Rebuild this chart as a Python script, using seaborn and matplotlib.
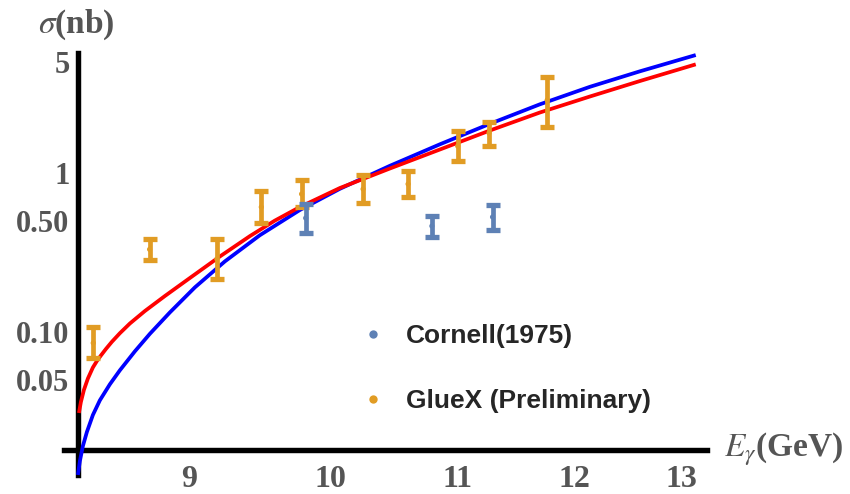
import numpy as np
import pandas as pd
import matplotlib
matplotlib.use("Agg")
import matplotlib.pyplot as plt
from matplotlib.lines import Line2D
from matplotlib.ticker import FixedLocator, FixedFormatter, NullLocator
import seaborn as sns

# ---------------- data ----------------
# model curves (E in GeV, sigma in nb)
blue_E = [8.2845, 8.2969, 8.3155, 8.3403, 8.3777, 8.4216, 8.4847, 8.5483, 8.6446, 8.7419,
          8.8733, 9.0404, 9.2451, 9.4897, 9.7773, 10.0735, 10.4565, 10.854, 11.2668, 11.6951,
          12.1399, 12.6015, 13.139]
blue_sigma = [0.01261, 0.01544, 0.01919, 0.02350, 0.03006, 0.03719, 0.04690, 0.05743, 0.07560, 0.09743,
              0.1328, 0.1908, 0.2780, 0.4062, 0.5852, 0.7955, 1.1099, 1.5154, 2.0392, 2.7044,
              3.4846, 4.3616, 5.5234]
red_E = [8.2907, 8.3031, 8.3217, 8.3466, 8.3777, 8.4029, 8.4280, 8.4595, 8.4974, 8.5483,
         8.6123, 8.7093, 8.8403, 9.0067, 9.2106, 9.4192, 9.5965, 9.7773, 10.0735, 10.4565,
         10.854, 11.2668, 11.6951, 12.1399, 12.6015, 13.139]
red_sigma = [0.03094, 0.03629, 0.04318, 0.05100, 0.05981, 0.06571, 0.07116, 0.07817, 0.08677, 0.09828,
             0.1131, 0.1355, 0.1684, 0.2186, 0.2985, 0.4010, 0.5020, 0.6112, 0.8047, 1.0673,
             1.4054, 1.8510, 2.4017, 3.0280, 3.7894, 4.8276]

# GlueX (Preliminary)
gluex_E = [8.38, 8.74, 9.19, 9.50, 9.79, 10.25, 10.60, 11.00, 11.26, 11.76]
gluex_sigma = [0.0853, 0.331, 0.288, 0.611, 0.738, 0.793, 0.853, 1.478, 1.785, 2.88]
gluex_lo = [0.0684, 0.284, 0.215, 0.488, 0.607, 0.652, 0.708, 1.199, 1.483, 1.953]
gluex_hi = [0.108, 0.383, 0.383, 0.772, 0.901, 0.968, 1.032, 1.851, 2.099, 4.045]

# Cornell (1975)
cornell_E = [9.82, 10.79, 11.29]
cornell_sigma = [0.521, 0.464, 0.529]
cornell_lo = [0.422, 0.397, 0.437]
cornell_hi = [0.643, 0.538, 0.627]

x_ticks = [9, 10, 11, 12, 13]
y_major = [0.05, 0.1, 0.5, 1, 5]
y_major_labels = ["0.05", "0.10", "0.50", "1", "5"]
legend_labels = ["Cornell(1975)", "GlueX (Preliminary)"]

C_CORNELL = "#5e81b5"
C_GLUEX = "#e19c24"
C_BLUE = "#0000ff"
C_RED = "#ff0000"
TICK_COL = "#555555"

# ---------------- figure ----------------
sns.set_style("white")
plt.rcParams["font.family"] = ["Liberation Serif", "DejaVu Serif"]
plt.rcParams["mathtext.fontset"] = "stix"

fig = plt.figure(figsize=(8.5, 4.94), dpi=100)
ax = fig.add_axes([64 / 850, 1 - 475 / 494, (707 - 64) / 850, (475 - 53) / 494])
ax.set_xscale("log")
ax.set_yscale("log")
ax.set_xlim(8.199, 13.25)
ax.set_ylim(0.0126, 5.69)

curves = pd.concat([
    pd.DataFrame({"E": blue_E, "sigma": blue_sigma, "model": "blue"}),
    pd.DataFrame({"E": red_E, "sigma": red_sigma, "model": "red"}),
])
sns.lineplot(data=curves, x="E", y="sigma", hue="model",
             palette={"blue": C_BLUE, "red": C_RED}, lw=2.7, ax=ax,
             legend=False, sort=False, estimator=None, zorder=3)
for l in ax.lines:
    l.set_clip_on(False)
    l.set_solid_capstyle("butt")
    l.set_solid_joinstyle("round")

def bars(E, s, lo, hi, col):
    s = np.asarray(s); lo = np.asarray(lo); hi = np.asarray(hi)
    ax.errorbar(E, s, yerr=[s - lo, hi - s], fmt="none", ecolor=col,
                elinewidth=3.4, capsize=5.0, capthick=3.8, zorder=4)
    sns.scatterplot(x=E, y=s, color=col, s=14, edgecolor="none", ax=ax, zorder=5)

bars(gluex_E, gluex_sigma, gluex_lo, gluex_hi, C_GLUEX)
bars(cornell_E, cornell_sigma, cornell_lo, cornell_hi, C_CORNELL)

# axes crossing like Mathematica
for s in ["top", "right"]:
    ax.spines[s].set_visible(False)
ax.spines["left"].set_position(("data", 8.284))
ax.spines["bottom"].set_position(("data", 0.0181))
ax.spines["left"].set_linewidth(3.9)
ax.spines["bottom"].set_linewidth(3.9)
ax.spines["left"].set_color("black")
ax.spines["bottom"].set_color("black")

ax.xaxis.set_major_locator(FixedLocator(x_ticks))
ax.xaxis.set_major_formatter(FixedFormatter([str(t) for t in x_ticks]))
ax.xaxis.set_minor_locator(NullLocator())
ax.yaxis.set_major_locator(FixedLocator(y_major))
ax.yaxis.set_major_formatter(FixedFormatter(y_major_labels))
minor = [m * 10.0 ** k for k in (-2, -1, 0) for m in range(1, 10)]
minor = [v for v in minor if all(abs(v - M) > 1e-9 for M in y_major)]
ax.yaxis.set_minor_locator(FixedLocator(minor))

ax.tick_params(axis="both", which="major", direction="in", length=5, width=0.9,
               color="#333333", labelcolor=TICK_COL, labelsize=22)
ax.tick_params(axis="x", which="major", labelsize=23)
ax.tick_params(axis="both", which="minor", direction="in", length=3, width=0.8,
               color="#333333")
ax.tick_params(axis="y", which="major", pad=6)
ax.tick_params(axis="x", which="major", pad=11)
for lab in ax.get_xticklabels() + ax.get_yticklabels():
    lab.set_fontweight("bold")
ax.set_xlabel("")
ax.set_ylabel("")

fig.text(76 / 850, 1 - 25 / 494, r"$\sigma$(nb)", ha="center", va="center",
         fontsize=24, fontweight="bold", color=TICK_COL)
fig.text(724 / 850, 1 - 449 / 494, r"$E_{\gamma}$(GeV)", ha="left", va="center",
         fontsize=24, fontweight="bold", color=TICK_COL)

handles = [Line2D([], [], ls="none", marker="o", ms=6, color=C_CORNELL, mec="none"),
           Line2D([], [], ls="none", marker="o", ms=6, color=C_GLUEX, mec="none")]
leg = ax.legend(handles, legend_labels, loc="center left",
                bbox_to_anchor=(360 / 850, 1 - 368.5 / 494),
                bbox_transform=fig.transFigure, frameon=False,
                prop={"family": "Liberation Sans", "weight": "bold", "size": 19},
                handlelength=1.0, handletextpad=0.75, labelspacing=1.55,
                borderpad=0, borderaxespad=0)

fig.savefig("out.png", dpi=100)
